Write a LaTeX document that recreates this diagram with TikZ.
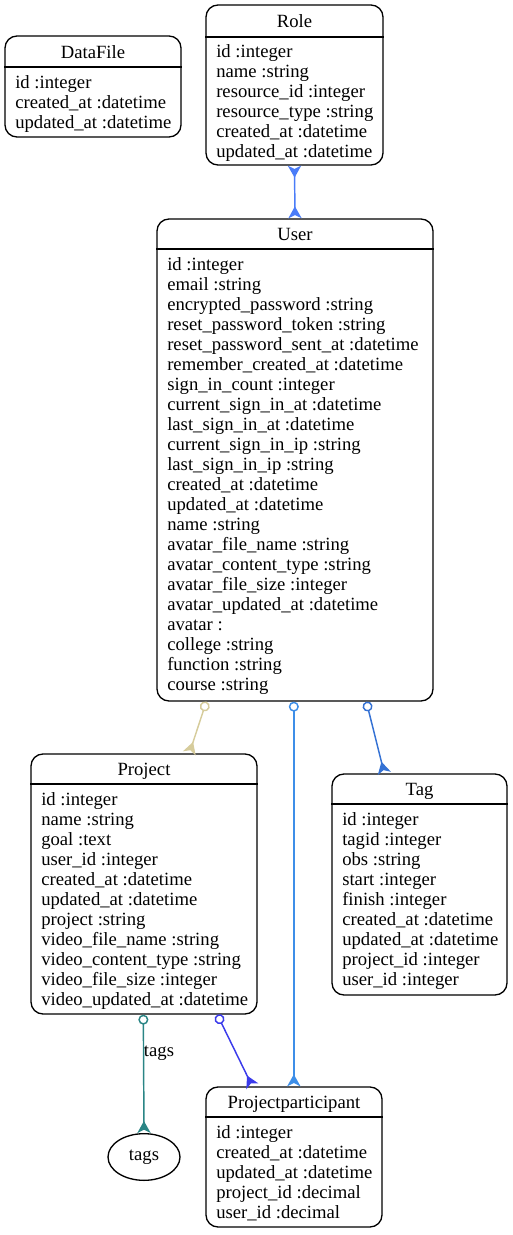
\documentclass[tikz,border=0pt]{standalone}
\usepackage{fontspec}
\setmainfont{Liberation Serif}
\usetikzlibrary{arrows.meta,shapes.geometric}
\definecolor{cRoleUser}{HTML}{4A7CF8}
\definecolor{cUserProject}{HTML}{D6CC9C}
\definecolor{cUserPP}{HTML}{3D8EE8}
\definecolor{cUserTag}{HTML}{3572D4}
\definecolor{cProjTags}{HTML}{2A8585}
\definecolor{cProjPP}{HTML}{3B3BEB}
\tikzset{
  entbox/.style={draw=black, line width=1pt, rounded corners=9pt, inner sep=0pt},
  sepline/.style={draw=black, line width=1pt},
  titletext/.style={inner sep=0pt, font=\fontsize{14}{16}\selectfont, text height=12pt, text depth=2pt},
  rowtext/.style={anchor=west, inner sep=0pt, font=\fontsize{14}{16}\selectfont, text height=12pt, text depth=2pt},
  crow/.tip={Stealth[reversed,length=9pt,width=10pt,inset=2.5pt]},
  rel/.style={line width=1.1pt, {Circle[open,length=7.5pt,width=7.5pt]}-{crow}},
}
\newcommand\entity[9]{%
  \node[entbox, minimum width={(#3-#2)*0.75pt}, minimum height={(#6-#4)*0.75pt}] (#1) at ({(#2+#3)/2},{(#4+#6)/2}) {};
  \draw[sepline] (#1.west |- 0,#5) -- (#1.east |- 0,#5);
  \node[titletext] (#1-title) at ({(#2+#3)/2},{(#4+#5)/2}) {#7};
  \foreach \t [count=\i from 0] in {#9} {
    \node[rowtext] (#1-r\i) at ({#2+10},{#8+20*\i}) {\t};
  }
}
\begin{document}
\begin{tikzpicture}[x=0.75pt,y=-0.75pt]
\useasboundingbox (0,0) rectangle (513,1235);

\entity{datafile}{5}{181}{36}{67}{137}{DataFile}{82}{id :integer,created\_at :datetime,updated\_at :datetime}

\entity{role}{206}{383}{5}{37}{165}{Role}{51}{id :integer,name :string,resource\_id :integer,resource\_type :string,created\_at :datetime,updated\_at :datetime}

\entity{user}{157}{433}{219}{249}{701}{User}{264}{id :integer,email :string,encrypted\_password :string,reset\_password\_token :string,reset\_password\_sent\_at :datetime,remember\_created\_at :datetime,sign\_in\_count :integer,current\_sign\_in\_at :datetime,last\_sign\_in\_at :datetime,current\_sign\_in\_ip :string,last\_sign\_in\_ip :string,created\_at :datetime,updated\_at :datetime,name :string,avatar\_file\_name :string,avatar\_content\_type :string,avatar\_file\_size :integer,avatar\_updated\_at :datetime,avatar :,college :string,function :string,course :string}

\entity{project}{31}{257}{754}{784}{1014}{Project}{799}{id :integer,name :string,goal :text,user\_id :integer,created\_at :datetime,updated\_at :datetime,project :string,video\_file\_name :string,video\_content\_type :string,video\_file\_size :integer,video\_updated\_at :datetime}

\entity{tag}{332}{507}{774}{804}{995}{Tag}{819}{id :integer,tagid :integer,obs :string,start :integer,finish :integer,created\_at :datetime,updated\_at :datetime,project\_id :integer,user\_id :integer}

\entity{pp}{206}{382}{1087}{1117}{1227}{Projectparticipant}{1132}{id :integer,created\_at :datetime,updated\_at :datetime,project\_id :decimal,user\_id :decimal}

\node[draw=black, line width=1pt, ellipse, inner sep=0pt, minimum width=54pt, minimum height=35pt, font=\fontsize{14}{16}\selectfont] (tags) at (144,1157) {tags};

% relations
\draw[cRoleUser, line width=1.1pt, {crow}-{crow}] (role.south) -- (user.north);
\draw[rel, cUserProject] ([xshift=50*0.75pt]user.south west) -- ([xshift=159*0.75pt]project.north west);
\draw[rel, cUserPP] ([xshift=137.5*0.75pt]user.south west) -- ([xshift=88.5*0.75pt]pp.north west);
\draw[rel, cUserTag] ([xshift=210*0.75pt]user.south west) -- ([xshift=53*0.75pt]tag.north west);
\draw[rel, cProjTags] ([xshift=113*0.75pt]project.south west) -- (tags.north);
\draw[rel, cProjPP] ([xshift=187*0.75pt]project.south west) -- ([xshift=47*0.75pt]pp.north west);
\node[inner sep=0pt, font=\fontsize{14}{16}\selectfont, text height=12pt, text depth=2pt] (tagslabel) at (159,1050) {tags};
\end{tikzpicture}
\end{document}
